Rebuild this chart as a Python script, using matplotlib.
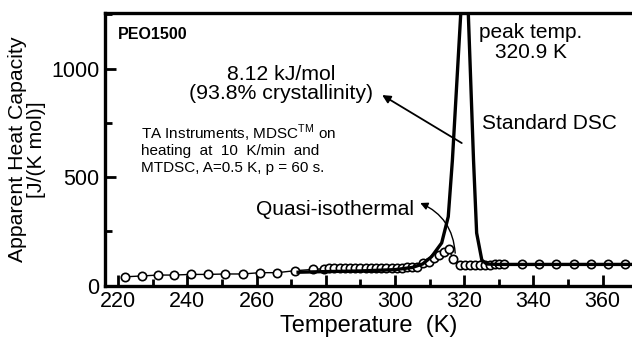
import matplotlib
matplotlib.use('Agg')
import matplotlib.pyplot as plt
from matplotlib.ticker import MultipleLocator

plt.rcParams['font.family'] = ['Liberation Sans', 'DejaVu Sans']

# standard DSC trace (K, J/(K mol))
dsc_T = [272, 280, 290, 300, 305, 308, 310.6, 313.5, 315.4, 316.6, 319.0, 320.3,
         321.2, 322.7, 323.6, 325.1, 326.5, 330, 368.5]
dsc_cp = [62, 65, 68, 74, 84, 100, 134, 197, 318, 579, 1250, 1650,
          1250, 579, 243, 118, 100, 98, 98]

# quasi-isothermal TMDSC points
qi_T = [222, 227, 231.5, 236, 241, 246, 251, 256, 261, 266, 271, 276.4,
        279.5, 281, 282.5, 284, 285.5, 287, 288.5, 290, 291.5, 293, 294.5, 296,
        297.5, 299, 300.5, 302, 303.5, 305, 306.5, 308.2, 309.7, 311.2, 312.6,
        314.1, 315.5, 316.9, 318.8, 320.3, 321.7, 323.2, 324.6, 326, 327.4,
        328.8, 330.2, 331.6, 336.6, 341.6, 346.6, 351.6, 356.6, 361.5, 366.4]
qi_cp = [41, 45, 49, 49, 52, 52, 54, 54, 60, 60, 69, 75,
         78, 80, 80, 80, 80, 80, 80, 80, 80, 80, 80, 80,
         80, 80, 82, 82, 84, 86, 88, 103, 110, 126, 141,
         157, 168, 122, 95, 95, 95, 95, 95, 97, 97,
         98, 98, 100, 100, 100, 100, 100, 100, 100, 100]

# instrument note, one entry per line
note_lines = ['TA Instruments, MDSC$^{\\mathregular{TM}}$ on',
              'heating  at  10  K/min  and',
              'MTDSC, A=0.5 K, p = 60 s.']

fig = plt.figure(figsize=(6.32, 3.39), dpi=100)
ax = fig.add_axes([105/632, 53.3/339, 527/632, 272.7/339])

ax.plot(qi_T, qi_cp, color='black', lw=1.0, marker='o', ms=6,
        mfc='white', mec='black', mew=1.2, zorder=3)
ax.plot(dsc_T, dsc_cp, color='black', lw=2.4, zorder=4)

ax.set_xlim(216.2, 368.5)
ax.set_ylim(0, 1256)
ax.xaxis.set_major_locator(MultipleLocator(20))
ax.xaxis.set_minor_locator(MultipleLocator(10))
ax.yaxis.set_major_locator(MultipleLocator(500))
ax.yaxis.set_minor_locator(MultipleLocator(250))
ax.tick_params(which='both', direction='in', top=False, right=False,
               labelsize=15.5, width=2)
ax.tick_params(which='major', length=8, pad=4)
ax.tick_params(which='minor', length=5)
for side in ['left', 'bottom', 'top']:
    ax.spines[side].set_linewidth(2.4)
ax.spines['right'].set_visible(False)

ax.set_xlabel('Temperature  (K)', fontsize=17, labelpad=2)
ax.set_ylabel('Apparent Heat Capacity\n[J/(K mol)]', fontsize=15.3,
              linespacing=1.0, labelpad=4)

ax.text(220.0, 1155, 'PEO1500', fontsize=11.5, fontweight='bold',
        ha='left', va='center')
ax.text(267.1, 931, '8.12 kJ/mol\n(93.8% crystallinity)', fontsize=15.3,
        ha='center', va='center', linespacing=1.0)
ax.annotate('', xy=(296.3, 878), xytext=(319.3, 657),
            arrowprops=dict(arrowstyle='-|>', color='black', lw=1.3,
                            mutation_scale=12, shrinkA=0, shrinkB=0))
ax.text(339.3, 1121, 'peak temp.\n320.9 K', fontsize=15, ha='center',
        va='center', linespacing=1.05)
ax.text(344.6, 748, 'Standard DSC', fontsize=15, ha='center', va='center')
ax.text(282.7, 352, 'Quasi-isothermal', fontsize=15, ha='center',
        va='center')
ax.annotate('', xy=(307.3, 381), xytext=(317.4, 150),
            arrowprops=dict(arrowstyle='-|>', color='black', lw=1.0,
                            mutation_scale=11, shrinkA=0, shrinkB=0,
                            connectionstyle='arc3,rad=0.3'))
for i, line in enumerate(note_lines):
    ax.text(226.6, 700 - i * 79, line, fontsize=11, ha='left', va='center')

fig.savefig('out.png', dpi=100)
